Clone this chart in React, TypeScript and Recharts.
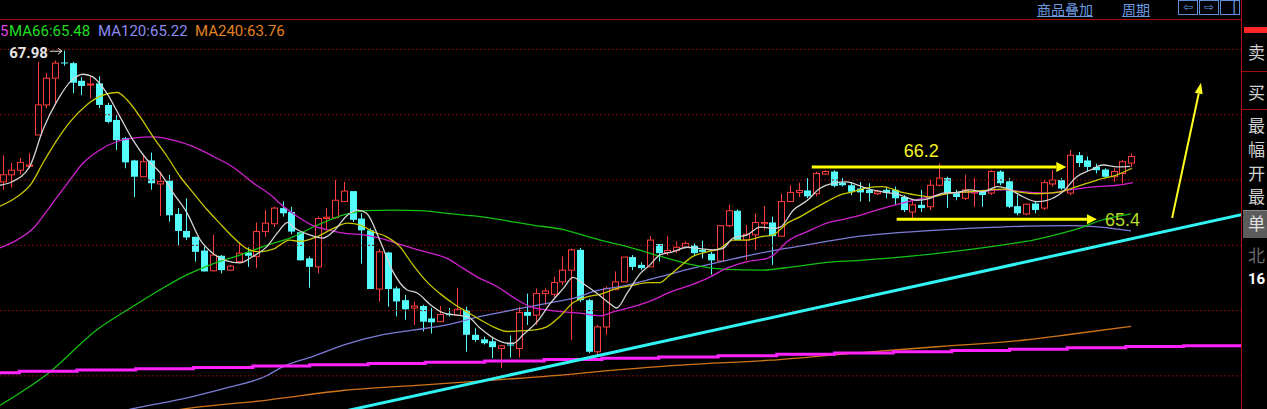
import React from "react"
import { ComposedChart, Bar, Line, XAxis, YAxis, ReferenceLine, ReferenceDot } from "recharts"

// daily candles, oldest first
const opens = [
  65.97, 66.08, 66.15, 66.21, 66.69, 67.15, 67.56, 67.80, 67.79, 67.52,
  67.46, 67.48, 67.15, 66.92, 66.64, 66.30, 66.05, 66.30, 65.94, 65.99,
  65.48, 65.22, 65.13, 64.92, 64.61, 64.84, 64.62, 64.75, 64.89, 64.83,
  65.21, 65.33, 65.57, 65.51, 65.20, 64.80, 64.67, 65.41, 65.42, 65.67,
  65.83, 65.41, 65.23, 64.33, 64.89, 64.34, 64.16, 64.04, 64.07, 63.88,
  63.83, 63.95, 63.93, 64.01, 63.63, 63.56, 63.53, 63.42, 63.48, 63.42,
  63.98, 63.93, 64.26, 64.25, 64.44, 64.62, 64.93, 64.16, 63.37, 63.75,
  64.32, 64.44, 64.82, 64.70, 64.67, 65.02, 64.89, 64.92, 64.97, 65.00,
  64.93, 64.87, 64.76, 65.30, 65.53, 65.08, 65.16, 65.33, 65.35, 65.14,
  65.67, 65.81, 65.84, 65.79, 66.09, 66.13, 65.96, 65.92, 65.87, 65.85,
  65.79, 65.85, 65.85, 65.74, 65.51, 65.62, 65.59, 65.92, 66.03, 65.80,
  65.72, 65.80, 65.82, 65.80, 66.13, 65.98, 65.60, 65.48, 65.64, 65.57,
  65.94, 66.00, 65.80, 66.38, 66.30, 66.20, 66.16, 66.05, 66.10, 66.26,
]
const highs = [
  66.38, 66.26, 66.34, 66.41, 67.81, 67.64, 67.83, 67.98, 67.81, 67.58,
  67.58, 67.59, 67.18, 67.00, 66.66, 66.31, 66.38, 66.42, 66.13, 66.08,
  65.57, 65.72, 65.13, 64.98, 65.16, 64.85, 64.70, 65.04, 64.97, 65.35,
  65.54, 65.59, 65.67, 65.59, 65.20, 64.83, 65.44, 65.57, 66.00, 65.97,
  65.83, 65.49, 65.26, 64.94, 64.90, 64.37, 64.24, 64.14, 64.09, 64.04,
  64.07, 64.04, 64.35, 64.06, 63.73, 63.60, 63.58, 63.47, 63.62, 64.06,
  64.26, 64.34, 64.34, 64.52, 64.83, 64.95, 64.96, 64.18, 63.78, 64.37,
  64.60, 64.82, 64.85, 64.74, 65.14, 65.02, 65.14, 65.06, 65.06, 65.03,
  65.07, 64.90, 65.31, 65.62, 65.55, 65.31, 65.49, 65.60, 65.44, 65.79,
  65.92, 65.96, 66.03, 66.13, 66.15, 66.15, 66.03, 65.97, 65.97, 65.95,
  65.85, 65.90, 65.90, 65.77, 65.69, 65.85, 66.00, 66.25, 66.05, 65.85,
  66.08, 66.03, 65.85, 66.15, 66.15, 66.03, 65.77, 65.64, 65.67, 66.00,
  66.15, 66.03, 66.46, 66.43, 66.36, 66.25, 66.18, 66.18, 66.31, 66.41,
]
const lows = [
  65.85, 65.89, 66.08, 66.18, 66.69, 67.10, 67.15, 67.75, 67.33, 67.30,
  67.25, 67.10, 66.87, 66.46, 66.18, 65.74, 66.05, 65.85, 65.45, 65.36,
  65.00, 65.08, 64.75, 64.60, 64.60, 64.57, 64.61, 64.73, 64.67, 64.65,
  65.13, 65.28, 65.44, 65.17, 64.77, 64.35, 64.57, 65.23, 65.41, 65.67,
  65.36, 64.72, 64.33, 64.14, 64.06, 63.91, 63.86, 63.78, 63.68, 63.65,
  63.83, 63.91, 63.93, 63.37, 63.52, 63.48, 63.27, 63.12, 63.28, 63.28,
  63.78, 63.78, 64.09, 64.21, 64.39, 63.55, 64.13, 63.35, 63.29, 63.63,
  64.32, 64.44, 64.62, 64.62, 64.67, 64.75, 64.85, 64.88, 64.95, 64.85,
  64.80, 64.55, 64.75, 65.28, 65.08, 64.77, 64.93, 65.23, 64.70, 65.13,
  65.67, 65.74, 65.72, 65.75, 66.08, 65.89, 65.90, 65.77, 65.67, 65.67,
  65.77, 65.72, 65.62, 65.51, 65.41, 65.51, 65.54, 65.90, 65.57, 65.69,
  65.69, 65.59, 65.59, 65.77, 65.92, 65.57, 65.46, 65.46, 65.49, 65.54,
  65.90, 65.85, 65.77, 66.20, 66.13, 66.10, 66.03, 65.97, 65.95, 66.20,
]
const closes = [
  66.08, 66.15, 66.27, 66.23, 67.15, 67.56, 67.79, 67.79, 67.49, 67.44,
  67.47, 67.15, 66.89, 66.61, 66.27, 66.05, 66.28, 65.95, 65.98, 65.46,
  65.22, 65.12, 64.90, 64.60, 64.85, 64.62, 64.68, 64.88, 64.84, 65.21,
  65.34, 65.57, 65.49, 65.21, 64.77, 64.67, 65.41, 65.43, 65.69, 65.83,
  65.39, 65.23, 64.33, 64.90, 64.33, 64.14, 64.02, 64.07, 63.83, 63.82,
  63.94, 63.93, 64.02, 63.63, 63.55, 63.50, 63.44, 63.46, 63.47, 63.97,
  63.92, 64.26, 64.30, 64.43, 64.62, 64.93, 64.16, 63.37, 63.75, 64.34,
  64.44, 64.82, 64.67, 64.65, 65.08, 64.88, 64.92, 64.97, 65.03, 64.88,
  64.90, 64.77, 65.30, 65.53, 65.08, 65.17, 65.35, 65.35, 65.14, 65.67,
  65.81, 65.84, 65.75, 66.10, 66.13, 65.91, 65.92, 65.82, 65.81, 65.80,
  65.82, 65.80, 65.72, 65.54, 65.62, 65.57, 65.92, 66.03, 65.80, 65.74,
  65.85, 65.82, 65.77, 66.13, 65.95, 65.59, 65.49, 65.63, 65.54, 65.96,
  66.00, 65.87, 66.38, 66.26, 66.20, 66.15, 66.05, 66.13, 66.28, 66.36,
]

// moving averages: [bar position, price]
const ma5 = [
  [-0.3, 65.92], [1.0, 65.97], [3.1, 66.21], [4.6, 66.77], [6.3, 67.23], [7.9, 67.53], [9.2, 67.62],
  [10.3, 67.58], [11.9, 67.33], [13.4, 66.97], [14.9, 66.61], [16.5, 66.31], [18.0, 66.11], [19.5, 65.8],
  [21.1, 65.49], [22.6, 65.08], [24.0, 64.88], [25.6, 64.76], [27.1, 64.73], [28.6, 64.83], [30.2, 64.98],
  [31.4, 65.19], [32.6, 65.35], [33.2, 65.28], [35.1, 65.16], [36.6, 65.11], [37.8, 65.21], [39.4, 65.46],
  [40.6, 65.54], [41.6, 65.49], [43.1, 65.08], [44.6, 64.6], [46.2, 64.32], [47.4, 64.27], [48.9, 64.09],
  [50.3, 63.97], [51.9, 63.93], [53.1, 63.91], [54.6, 63.73], [56.1, 63.58], [57.7, 63.5], [58.4, 63.5],
  [59.5, 63.63], [61.1, 63.83], [62.6, 64.11], [64.1, 64.34], [65.2, 64.51], [66.3, 64.42], [67.9, 64.27],
  [69.4, 64.11], [70.2, 64.04], [71.4, 64.27], [72.9, 64.57], [74.0, 64.7], [75.1, 64.85], [76.6, 64.9],
  [78.2, 64.97], [79.7, 64.95], [81.2, 64.93], [82.3, 64.95], [83.5, 65.11], [85.1, 65.16], [86.6, 65.28],
  [88.1, 65.26], [88.9, 65.28], [90.4, 65.54], [92.0, 65.69], [93.4, 65.87], [94.9, 65.95], [96.5, 65.97],
  [98.0, 65.91], [98.8, 65.87], [100.6, 65.82], [102.6, 65.77], [104.5, 65.69], [106.0, 65.72], [107.5, 65.8],
  [109.1, 65.81], [110.6, 65.85], [112.1, 65.82], [113.7, 65.9], [115.2, 65.85], [116.7, 65.74], [118.2, 65.67],
  [119.4, 65.69], [121.2, 65.82], [122.8, 66.05], [124.3, 66.15], [125.8, 66.23], [127.4, 66.2], [128.9, 66.21],
]
const ma10 = [
  [-0.3, 65.6], [1.6, 65.74], [3.3, 65.95], [4.6, 66.26], [6.2, 66.61], [7.7, 66.89], [9.6, 67.15],
  [11.1, 67.28], [13.1, 67.34], [14.2, 67.23], [15.7, 66.97], [17.2, 66.66], [18.8, 66.36], [20.3, 66.05],
  [21.8, 65.8], [23.4, 65.54], [24.8, 65.34], [26.3, 65.13], [27.9, 64.95], [29.4, 64.9], [30.9, 64.94],
  [32.8, 65.08], [34.0, 65.06], [35.9, 65.13], [37.8, 65.26], [39.4, 65.34], [40.9, 65.31], [42.3, 65.21],
  [43.9, 65.13], [45.4, 64.98], [46.9, 64.7], [48.5, 64.44], [50.0, 64.26], [51.5, 64.11], [53.1, 63.98],
  [54.6, 63.86], [56.1, 63.75], [57.7, 63.68], [59.1, 63.69], [60.6, 63.7], [62.2, 63.75], [63.7, 63.91],
  [65.2, 64.12], [66.8, 64.21], [68.3, 64.25], [70.2, 64.34], [72.1, 64.39], [73.7, 64.43], [75.2, 64.43],
  [75.9, 64.5], [77.4, 64.67], [78.9, 64.83], [80.5, 64.9], [82.0, 64.95], [83.5, 65.08], [85.1, 65.08],
  [86.6, 65.13], [88.1, 65.16], [89.7, 65.34], [91.2, 65.44], [92.6, 65.55], [94.2, 65.67], [95.7, 65.77],
  [97.2, 65.82], [98.8, 65.88], [100.6, 65.9], [102.6, 65.82], [104.5, 65.77], [106.0, 65.74], [108.3, 65.8],
  [110.6, 65.82], [112.9, 65.85], [114.4, 65.86], [116.0, 65.82], [118.2, 65.79], [120.5, 65.81],
  [122.8, 65.9], [125.1, 66.0], [127.4, 66.08], [129.1, 66.18],
]
const ma20 = [
  [-0.3, 64.96], [1.6, 65.08], [3.5, 65.26], [5.4, 65.59], [7.4, 65.95], [9.2, 66.26], [11.1, 66.46],
  [13.1, 66.59], [14.9, 66.64], [17.2, 66.66], [19.5, 66.61], [21.8, 66.51], [24.1, 66.36], [26.3, 66.2],
  [28.6, 65.96], [30.9, 65.74], [31.7, 65.64], [33.6, 65.45], [35.5, 65.3], [37.4, 65.23], [39.4, 65.18],
  [41.2, 65.16], [43.1, 65.11], [45.1, 65.03], [47.0, 64.95], [48.9, 64.88], [50.8, 64.8], [52.6, 64.65],
  [54.6, 64.49], [56.5, 64.37], [58.3, 64.21], [60.3, 64.06], [62.2, 64.01], [64.1, 63.98], [66.0, 63.96],
  [68.3, 63.92], [69.8, 63.98], [72.1, 64.06], [74.3, 64.16], [75.9, 64.26], [78.2, 64.37], [80.5, 64.49],
  [82.8, 64.65], [85.1, 64.75], [87.4, 64.8], [88.1, 64.85], [89.7, 65.06], [92.0, 65.21], [94.2, 65.34],
  [96.5, 65.41], [98.0, 65.46], [99.9, 65.54], [102.6, 65.64], [105.2, 65.72], [108.3, 65.8], [111.4, 65.82],
  [114.4, 65.85], [117.4, 65.81], [119.7, 65.8], [122.0, 65.85], [125.1, 65.9], [127.4, 65.92], [129.2, 65.96],
]
const ma66 = [
  [-0.3, 62.55], [5.4, 63.06], [10.7, 63.7], [14.6, 64.04], [18.0, 64.32], [21.1, 64.55], [24.1, 64.72],
  [27.1, 64.85], [30.2, 65.0], [33.2, 65.13], [35.5, 65.28], [39.4, 65.48], [41.6, 65.53], [44.6, 65.54],
  [47.7, 65.53], [50.8, 65.49], [53.1, 65.46], [54.6, 65.44], [58.3, 65.36], [60.6, 65.31], [63.7, 65.25],
  [68.3, 65.08], [71.4, 64.98], [75.2, 64.83], [78.9, 64.7], [82.8, 64.63], [86.6, 64.62], [90.3, 64.67],
  [94.2, 64.74], [98.0, 64.77], [102.6, 64.82], [106.4, 64.87], [110.2, 64.93], [114.0, 65.0], [117.8, 65.08],
  [120.9, 65.18], [123.5, 65.28], [125.5, 65.38], [129.0, 65.48],
]
const ma120 = [
  [10.0, 62.35], [14.6, 62.49], [21.6, 62.68], [26.0, 62.83], [30.3, 63.01], [31.7, 63.12], [35.5, 63.3],
  [39.4, 63.49], [43.1, 63.62], [46.9, 63.7], [50.8, 63.78], [54.6, 63.91], [58.3, 64.01], [62.2, 64.11],
  [65.8, 64.21], [67.5, 64.29], [71.4, 64.39], [75.2, 64.52], [78.9, 64.65], [82.8, 64.77], [86.6, 64.88],
  [90.3, 64.97], [94.2, 65.06], [98.0, 65.14], [102.0, 65.19], [106.4, 65.23], [114.0, 65.28], [121.7, 65.3],
  [125.5, 65.28], [129.0, 65.22],
]
const ma240 = [
  [17.0, 62.42], [21.6, 62.51], [30.3, 62.63], [39.1, 62.78], [47.8, 62.86], [56.6, 62.94], [65.4, 63.03],
  [68.3, 63.07], [78.0, 63.17], [87.7, 63.24], [97.4, 63.35], [107.2, 63.45], [116.8, 63.55], [121.7, 63.63],
  [129.0, 63.76],
]
// long-period step line (thick magenta)
const stepLine = [
  [-0.5, 63.05], [1.9, 63.07], [8.5, 63.09], [15.2, 63.11], [21.8, 63.13], [28.6, 63.15], [35.1, 63.17],
  [41.8, 63.19], [48.3, 63.21], [55.1, 63.23], [61.9, 63.25], [68.5, 63.27], [75.0, 63.29], [81.8, 63.31],
  [88.5, 63.33], [95.1, 63.35], [101.8, 63.37], [108.5, 63.39], [115.1, 63.41], [121.7, 63.43],
  [128.4, 63.45], [135.0, 63.46], [142.0, 63.46],
]
const trendLine = [[35, 62.34], [142, 65.48]]
const resistance = { price: 66.2, from: 92.5, to: 121.6, label: "66.2" }
const support = { price: 65.4, from: 102.2, to: 125.1, label: "65.4" }
const breakout = [[133.7, 65.42], [137.0, 67.49]]
const peak = { i: 7, price: 67.98 }
const priceGrid = [63, 64, 65, 66, 67, 68]
const legend = [
  { name: "MA66", value: "65.48", color: "#22dd22", left: 9 },
  { name: "MA120", value: "65.22", color: "#8c8cf0", left: 98 },
  { name: "MA240", value: "63.76", color: "#e38224", left: 195 },
]
const panelChars = [
  { t: "卖", top: 43 }, { t: "买", top: 83 }, { t: "最", top: 116 }, { t: "幅", top: 140 },
  { t: "开", top: 164 }, { t: "最", top: 187 },
]

const UP = "#ff3c3c"
const DOWN = "#54fcfc"
const X_DOMAIN = [-0.309, 141.57]
const Y_DOMAIN = [62.493, 68.466]

const candleRows = opens.map((o, i) => ({ i, o, h: highs[i], l: lows[i], c: closes[i], hl: [lows[i], highs[i]] }))
const toRows = (pts: number[][]) => pts.map(([i, v]) => ({ i, v }))

function Candle(props: any) {
  const { x, y, width, height, payload } = props
  if (!payload || !Number.isFinite(y) || !Number.isFinite(height)) return null
  const { o, h, l, c } = payload
  const k = h > l ? height / (h - l) : 0
  const py = (v: number) => y + (h - v) * k
  const up = c >= o
  const mid = Math.round(x + width / 2)
  const wx = mid + 0.5
  const top = py(Math.max(o, c))
  const bh = Math.max(py(Math.min(o, c)) - top, 1)
  if (up) {
    return (
      <g>
        <line x1={wx} x2={wx} y1={y} y2={top} stroke={UP} />
        <line x1={wx} x2={wx} y1={top + bh} y2={y + height} stroke={UP} />
        <rect x={mid - 2.5} y={top} width={6} height={bh} fill="#000" stroke={UP} />
      </g>
    )
  }
  return (
    <g>
      <line x1={wx} x2={wx} y1={y} y2={y + height} stroke={DOWN} />
      <rect x={mid - 3} y={top} width={7} height={bh} fill={DOWN} />
    </g>
  )
}

function arrow(color: string, w: number, headLen: number, headHalf: number, label?: (p: any) => React.ReactNode) {
  return (p: any) => {
    const { x1, y1, x2, y2 } = p
    const dx = x2 - x1
    const dy = y2 - y1
    const len = Math.hypot(dx, dy) || 1
    const ux = dx / len
    const uy = dy / len
    const bx = x2 - ux * headLen
    const by = y2 - uy * headLen
    const nx = -uy * headHalf
    const ny = ux * headHalf
    return (
      <g>
        <line x1={x1} y1={y1} x2={bx} y2={by} stroke={color} strokeWidth={w} />
        <polygon points={`${x2},${y2} ${bx + nx},${by + ny} ${bx - nx},${by - ny}`} fill={color} />
        {label ? label(p) : null}
      </g>
    )
  }
}

function PeakMark(p: any) {
  const { cx, cy } = p
  return (
    <g>
      <text x={cx - 16} y={cy + 7} textAnchor="end" fill="#e6e6e6" fontSize={15} fontWeight="bold" fontFamily="Roboto, sans-serif">
        {peak.price.toFixed(2)}
      </text>
      <line x1={cx - 14} y1={cy + 0.5} x2={cx - 2} y2={cy + 0.5} stroke="#e6e6e6" />
      <polyline points={`${cx - 6},${cy - 2.5} ${cx - 2},${cy + 0.5} ${cx - 6},${cy + 3.5}`} fill="none" stroke="#e6e6e6" />
    </g>
  )
}

const maLine = (pts: number[][], color: string, width = 1.3) => (
  <Line
    data={toRows(pts)}
    dataKey="v"
    type="monotone"
    stroke={color}
    strokeWidth={width}
    dot={false}
    activeDot={false}
    connectNulls
    isAnimationActive={false}
  />
)

const cjk = "'Noto Sans CJK SC', sans-serif"

export default function App() {
  const labelFont = "'Liberation Sans', Arial, sans-serif"
  return (
    <div style={{ position: "absolute", left: 0, top: 0, width: 1267, height: 409, background: "#000", overflow: "hidden" }}>
      <div style={{ position: "absolute", left: 0, top: 0 }}>
        <ComposedChart width={1241} height={409} data={candleRows} margin={{ top: 19, right: 0, bottom: 0, left: 0 }}>
          <XAxis type="number" dataKey="i" domain={X_DOMAIN} allowDataOverflow hide />
          <YAxis type="number" domain={Y_DOMAIN} allowDataOverflow hide />
          {priceGrid.map((p) => (
            <ReferenceLine key={p} y={p} stroke="#800c0c" strokeDasharray="2 2" />
          ))}
          <Bar dataKey="hl" barSize={7} shape={(p: any) => <Candle {...p} />} isAnimationActive={false} />
          {maLine(ma240, "#d0741a")}
          {maLine(ma120, "#7c7cd8")}
          {maLine(ma66, "#12c012")}
          {maLine(ma20, "#d020d0")}
          {maLine(ma10, "#c8c800")}
          {maLine(ma5, "#d4d4d4")}
          <Line
            data={toRows(stepLine)}
            dataKey="v"
            type="stepAfter"
            stroke="#ff22ff"
            strokeWidth={3}
            dot={false}
            activeDot={false}
            isAnimationActive={false}
          />
          <ReferenceLine
            segment={trendLine.map(([x, y]) => ({ x, y }))}
            stroke="#30f4f4"
            strokeWidth={3}
            ifOverflow="hidden"
          />
          <ReferenceLine
            segment={[{ x: resistance.from, y: resistance.price }, { x: resistance.to, y: resistance.price }]}
            ifOverflow="visible"
            shape={arrow("#ffff00", 3, 10, 5, (p) => (
              <text x={p.x1 + 92} y={p.y1 - 10} fill="#f4f424" fontSize={18} fontFamily={labelFont}>
                {resistance.label}
              </text>
            ))}
          />
          <ReferenceLine
            segment={[{ x: support.from, y: support.price }, { x: support.to, y: support.price }]}
            ifOverflow="visible"
            shape={arrow("#ffff00", 3, 10, 5, (p) => (
              <text x={p.x2 + 8} y={p.y2 + 7} fill="#b4dc28" fontSize={18} fontFamily={labelFont}>
                {support.label}
              </text>
            ))}
          />
          <ReferenceLine
            segment={breakout.map(([x, y]) => ({ x, y }))}
            ifOverflow="visible"
            shape={arrow("#ffff20", 2, 11, 4)}
          />
          <ReferenceDot x={peak.i} y={peak.price} r={2} ifOverflow="visible" shape={(p: any) => <PeakMark {...p} />} />
        </ComposedChart>
      </div>

      {/* frame */}
      <div style={{ position: "absolute", left: 0, top: 19, width: 1242, height: 1, background: "#a80c0c" }} />
      <div style={{ position: "absolute", left: 1241, top: 0, width: 1, height: 409, background: "#b40c0c" }} />

      {/* MA legend */}
      <span style={{ position: "absolute", left: 0, top: 22, color: "#e040e0", fontSize: 15, fontFamily: "Roboto, sans-serif" }}>5</span>
      {legend.map((m) => (
        <span
          key={m.name}
          style={{ position: "absolute", left: m.left, top: 22, color: m.color, fontSize: 15, fontFamily: "Roboto, sans-serif", whiteSpace: "nowrap" }}
        >
          {m.name}:{m.value}
        </span>
      ))}

      {/* toolbar */}
      <span style={{ position: "absolute", left: 1037, top: 1, color: "#6b9ae0", fontSize: 14, lineHeight: "16px", textDecoration: "underline", fontFamily: cjk }}>
        商品叠加
      </span>
      <span style={{ position: "absolute", left: 1122, top: 1, color: "#6b9ae0", fontSize: 14, lineHeight: "16px", textDecoration: "underline", fontFamily: cjk }}>
        周期
      </span>
      {["⇦", "⇨", "▕"].map((g, k) => (
        <div
          key={k}
          style={{
            position: "absolute", left: 1178 + k * 21, top: 0, width: 18, height: 13, border: "1px solid #5f8fd8",
            color: "#6b9ae0", fontSize: 12, lineHeight: "13px", textAlign: "center", fontFamily: "'DejaVu Sans', sans-serif",
          }}
        >
          {g}
        </div>
      ))}

      {/* right panel */}
      <div style={{ position: "absolute", left: 1244, top: 27, width: 23, height: 6, background: "#ff2626" }} />
      <div style={{ position: "absolute", left: 1242, top: 71, width: 25, height: 1, background: "#a00c0c" }} />
      <div style={{ position: "absolute", left: 1242, top: 109, width: 25, height: 1, background: "#a00c0c" }} />
      {panelChars.map((p, k) => (
        <span
          key={k}
          style={{ position: "absolute", left: 1248, top: p.top, color: "#d0d0d0", fontSize: 17, lineHeight: "17px", fontFamily: cjk }}
        >
          {p.t}
        </span>
      ))}
      <div style={{ position: "absolute", left: 1243, top: 210, width: 24, height: 27, background: "#5c5c5c", borderTop: "1px solid #888" }} />
      <span style={{ position: "absolute", left: 1248, top: 214, color: "#e0e0e0", fontSize: 17, lineHeight: "17px", fontFamily: cjk }}>
        单
      </span>
      <span style={{ position: "absolute", left: 1248, top: 246, color: "#6c6c6c", fontSize: 17, lineHeight: "17px", fontFamily: cjk }}>
        北
      </span>
      <span style={{ position: "absolute", left: 1248, top: 271, color: "#ffffff", fontSize: 15, fontWeight: "bold", lineHeight: "17px", fontFamily: "Roboto, sans-serif" }}>
        16
      </span>
    </div>
  )
}
